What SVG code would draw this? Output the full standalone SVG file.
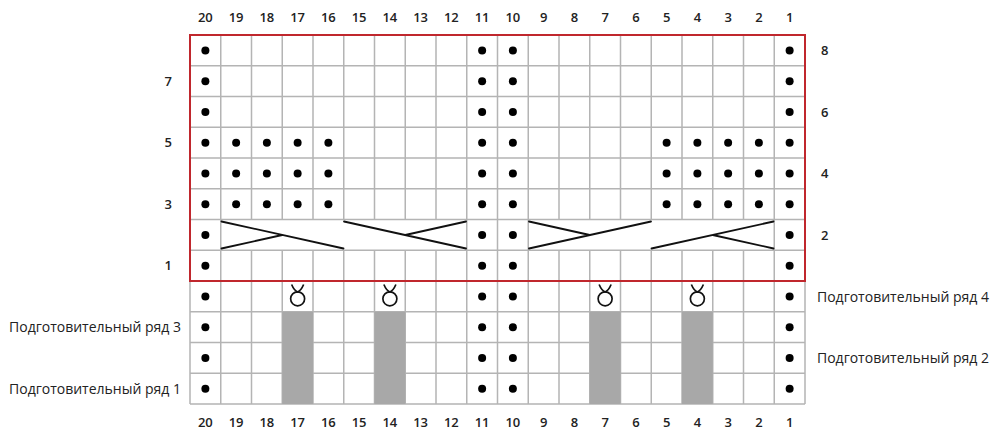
<svg xmlns="http://www.w3.org/2000/svg" width="990" height="433" viewBox="0 0 990 433">
<style>
.g{stroke:#b4b4b4;stroke-width:1.5;fill:none}
.d{fill:#000}
.c{stroke:#111;stroke-width:1.8;fill:none;stroke-linecap:round}
.n{font-family:"Open Sans","Liberation Sans",sans-serif;font-size:13px;font-weight:600;fill:#222;text-anchor:middle}
.r{font-family:"Open Sans","Liberation Sans",sans-serif;font-size:13px;font-weight:600;fill:#222}
.p{font-family:"Open Sans","Liberation Sans",sans-serif;font-size:14px;fill:#222}
.gr{fill:#a8a8a8}
.lp{stroke:#111;stroke-width:1.7;fill:none}
</style>
<defs>
<circle id="dot" r="4" class="d"/>
<g id="loop"><path class="lp" d="M-6,284.5 Q-3.5,290.5 0,292 Q3.5,290.5 6,284.5"/><circle class="lp" cx="0" cy="298.8" r="7"/></g>
</defs>
<rect width="990" height="433" fill="#fff"/>
<g id="grid">
<path class="g" d="M190,65.75H805M190,96.5H805M190,127.25H805M190,158H805M190,188.75H805M190,219.5H805M190,250.25H805M190,281H805M190,311.75H805M190,342.5H805M190,373.25H805M190,404H805"/>
<path class="g" d="M190,35V404M220.75,35V404M466.75,35V404M497.5,35V404M528.25,35V404M774.25,35V404M805,35V404"/>
<path class="g" d="M251.5,35V219.5M251.5,250.25V404M282.25,35V219.5M282.25,250.25V404M313,35V219.5M313,250.25V404M343.75,35V219.5M343.75,250.25V404M374.5,35V219.5M374.5,250.25V404M405.25,35V219.5M405.25,250.25V404M436,35V219.5M436,250.25V404M559,35V219.5M559,250.25V404M589.75,35V219.5M589.75,250.25V404M620.5,35V219.5M620.5,250.25V404M651.25,35V219.5M651.25,250.25V404M682,35V219.5M682,250.25V404M712.75,35V219.5M712.75,250.25V404M743.5,35V219.5M743.5,250.25V404"/>
</g>
<g id="gray">
<rect class="gr" x="282.25" y="311.75" width="30.75" height="92.25"/>
<rect class="gr" x="374.5" y="311.75" width="30.75" height="92.25"/>
<rect class="gr" x="589.75" y="311.75" width="30.75" height="92.25"/>
<rect class="gr" x="682" y="311.75" width="30.75" height="92.25"/>
</g>
<rect id="border" x="190" y="35" width="615" height="246" fill="none" stroke="#c0272d" stroke-width="2"/>
<g id="dots">
<use href="#dot" x="205.375" y="50.375"/><use href="#dot" x="482.125" y="50.375"/><use href="#dot" x="512.875" y="50.375"/><use href="#dot" x="789.625" y="50.375"/>
<use href="#dot" x="205.375" y="81.125"/><use href="#dot" x="482.125" y="81.125"/><use href="#dot" x="512.875" y="81.125"/><use href="#dot" x="789.625" y="81.125"/>
<use href="#dot" x="205.375" y="111.875"/><use href="#dot" x="482.125" y="111.875"/><use href="#dot" x="512.875" y="111.875"/><use href="#dot" x="789.625" y="111.875"/>
<use href="#dot" x="205.375" y="142.625"/><use href="#dot" x="482.125" y="142.625"/><use href="#dot" x="512.875" y="142.625"/><use href="#dot" x="789.625" y="142.625"/>
<use href="#dot" x="205.375" y="173.375"/><use href="#dot" x="482.125" y="173.375"/><use href="#dot" x="512.875" y="173.375"/><use href="#dot" x="789.625" y="173.375"/>
<use href="#dot" x="205.375" y="204.125"/><use href="#dot" x="482.125" y="204.125"/><use href="#dot" x="512.875" y="204.125"/><use href="#dot" x="789.625" y="204.125"/>
<use href="#dot" x="205.375" y="234.875"/><use href="#dot" x="482.125" y="234.875"/><use href="#dot" x="512.875" y="234.875"/><use href="#dot" x="789.625" y="234.875"/>
<use href="#dot" x="205.375" y="265.625"/><use href="#dot" x="482.125" y="265.625"/><use href="#dot" x="512.875" y="265.625"/><use href="#dot" x="789.625" y="265.625"/>
<use href="#dot" x="205.375" y="296.375"/><use href="#dot" x="482.125" y="296.375"/><use href="#dot" x="512.875" y="296.375"/><use href="#dot" x="789.625" y="296.375"/>
<use href="#dot" x="205.375" y="327.125"/><use href="#dot" x="482.125" y="327.125"/><use href="#dot" x="512.875" y="327.125"/><use href="#dot" x="789.625" y="327.125"/>
<use href="#dot" x="205.375" y="357.875"/><use href="#dot" x="482.125" y="357.875"/><use href="#dot" x="512.875" y="357.875"/><use href="#dot" x="789.625" y="357.875"/>
<use href="#dot" x="205.375" y="388.625"/><use href="#dot" x="482.125" y="388.625"/><use href="#dot" x="512.875" y="388.625"/><use href="#dot" x="789.625" y="388.625"/>
<use href="#dot" x="236.125" y="142.625"/><use href="#dot" x="266.875" y="142.625"/><use href="#dot" x="297.625" y="142.625"/><use href="#dot" x="328.375" y="142.625"/>
<use href="#dot" x="666.625" y="142.625"/><use href="#dot" x="697.375" y="142.625"/><use href="#dot" x="728.125" y="142.625"/><use href="#dot" x="758.875" y="142.625"/>
<use href="#dot" x="236.125" y="173.375"/><use href="#dot" x="266.875" y="173.375"/><use href="#dot" x="297.625" y="173.375"/><use href="#dot" x="328.375" y="173.375"/>
<use href="#dot" x="666.625" y="173.375"/><use href="#dot" x="697.375" y="173.375"/><use href="#dot" x="728.125" y="173.375"/><use href="#dot" x="758.875" y="173.375"/>
<use href="#dot" x="236.125" y="204.125"/><use href="#dot" x="266.875" y="204.125"/><use href="#dot" x="297.625" y="204.125"/><use href="#dot" x="328.375" y="204.125"/>
<use href="#dot" x="666.625" y="204.125"/><use href="#dot" x="697.375" y="204.125"/><use href="#dot" x="728.125" y="204.125"/><use href="#dot" x="758.875" y="204.125"/>
</g>
<g id="cables">
<path class="c" d="M221.5,221.5L343.5,248.5M221.5,248.5L282.25,235"/>
<path class="c" d="M344,221.5L466,248.5M466,221.5L405.25,235"/>
<path class="c" d="M529,248.5L651,221.5M529,221.5L589.75,235"/>
<path class="c" d="M651.5,248.5L773.5,221.5M773.5,248.5L712.75,235"/>
</g>
<g id="loops">
<use href="#loop" x="297.625"/><use href="#loop" x="389.875"/><use href="#loop" x="605.125"/><use href="#loop" x="697.375"/>
</g>
<g id="col-labels-top">
<text class="n" x="205.375" y="22">20</text><text class="n" x="236.125" y="22">19</text><text class="n" x="266.875" y="22">18</text><text class="n" x="297.625" y="22">17</text><text class="n" x="328.375" y="22">16</text><text class="n" x="359.125" y="22">15</text><text class="n" x="389.875" y="22">14</text><text class="n" x="420.625" y="22">13</text><text class="n" x="451.375" y="22">12</text><text class="n" x="482.125" y="22">11</text><text class="n" x="512.875" y="22">10</text><text class="n" x="543.625" y="22">9</text><text class="n" x="574.375" y="22">8</text><text class="n" x="605.125" y="22">7</text><text class="n" x="635.875" y="22">6</text><text class="n" x="666.625" y="22">5</text><text class="n" x="697.375" y="22">4</text><text class="n" x="728.125" y="22">3</text><text class="n" x="758.875" y="22">2</text><text class="n" x="789.625" y="22">1</text>
</g>
<g id="col-labels-bottom">
<text class="n" x="205.375" y="427">20</text><text class="n" x="236.125" y="427">19</text><text class="n" x="266.875" y="427">18</text><text class="n" x="297.625" y="427">17</text><text class="n" x="328.375" y="427">16</text><text class="n" x="359.125" y="427">15</text><text class="n" x="389.875" y="427">14</text><text class="n" x="420.625" y="427">13</text><text class="n" x="451.375" y="427">12</text><text class="n" x="482.125" y="427">11</text><text class="n" x="512.875" y="427">10</text><text class="n" x="543.625" y="427">9</text><text class="n" x="574.375" y="427">8</text><text class="n" x="605.125" y="427">7</text><text class="n" x="635.875" y="427">6</text><text class="n" x="666.625" y="427">5</text><text class="n" x="697.375" y="427">4</text><text class="n" x="728.125" y="427">3</text><text class="n" x="758.875" y="427">2</text><text class="n" x="789.625" y="427">1</text>
</g>
<g id="row-labels">
<text class="r" x="821" y="55">8</text><text class="r" x="821" y="116.5">6</text><text class="r" x="821" y="178">4</text><text class="r" x="821" y="239.5">2</text>
<text class="r" x="172" y="85.5" text-anchor="end">7</text><text class="r" x="172" y="147" text-anchor="end">5</text><text class="r" x="172" y="208.5" text-anchor="end">3</text><text class="r" x="172" y="270" text-anchor="end">1</text>
</g>
<g id="prep-labels">
<text class="p" x="817" y="301.5">Подготовительный ряд 4</text>
<text class="p" x="817" y="363">Подготовительный ряд 2</text>
<text class="p" x="181" y="332" text-anchor="end">Подготовительный ряд 3</text>
<text class="p" x="181" y="393.5" text-anchor="end">Подготовительный ряд 1</text>
</g>
</svg>
